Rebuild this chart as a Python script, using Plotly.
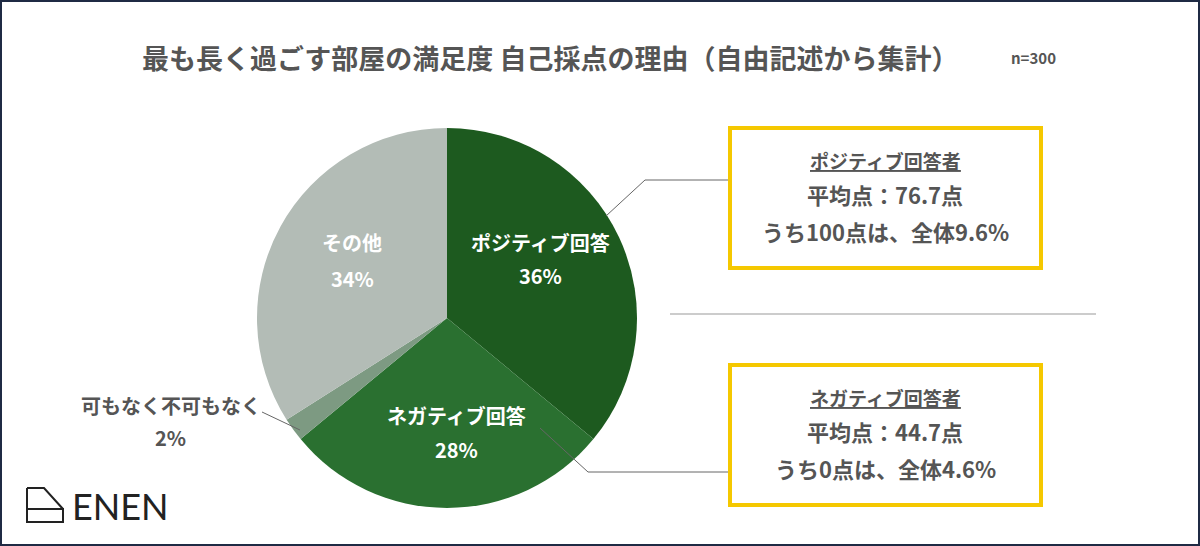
import plotly.graph_objects as go

labels = ["ポジティブ回答", "ネガティブ回答", "可もなく不可もなく", "その他"]
values = [36, 28, 2, 34]
colors = ["#1d5a1f", "#2a7030", "#7d9a82", "#b3bcb6"]

title = "最も長く過ごす部屋の満足度 自己採点の理由（自由記述から集計）"
n_label = "n=300"
pos_box = ["ポジティブ回答者", "平均点：76.7点", "うち100点は、全体9.6%"]
neg_box = ["ネガティブ回答者", "平均点：44.7点", "うち0点は、全体4.6%"]

W, H = 1200, 546
FONT = "Noto Sans CJK JP"


def px(x):
    return x / W


def py(y):
    return 1 - y / H


fig = go.Figure(go.Pie(
    labels=labels, values=values, sort=False, direction="clockwise", rotation=0,
    marker=dict(colors=colors, line=dict(color="white", width=0)),
    textinfo="none", hoverinfo="label+percent", showlegend=False,
    domain=dict(x=[px(257), px(637)], y=[py(508), py(128)]),
))

ann = []
def text(x, y, s, size=16, color="#555", bold=True):
    if bold:
        s = "<b>" + s + "</b>"
    ann.append(dict(x=px(x), y=py(y), xref="paper", yref="paper", text=s, showarrow=False,
                    xanchor="center", yanchor="middle",
                    font=dict(family=FONT, size=size, color=color)))

text(550, 58, title, 27)
text(1033, 58, n_label, 15)
text(540, 243, labels[0], 20, "white")
text(540, 275, f"{values[0]}%", 20, "white")
text(456, 415, labels[1], 20, "white")
text(456, 449, f"{values[1]}%", 20, "white")
text(352, 243, labels[3], 20, "white")
text(352, 278, f"{values[3]}%", 20, "white")
text(171, 405, labels[2], 20)
text(171, 437, f"{values[2]}%", 20)

for y0, lines in [(128, pos_box), (365, neg_box)]:
    text(885, y0 + 32, "<u>" + lines[0] + "</u>", 19)
    text(885, y0 + 66, lines[1], 22)
    text(885, y0 + 103, lines[2], 22)

ann.append(dict(x=px(70), y=py(506), xref="paper", yref="paper", text="ENEN", showarrow=False,
                xanchor="left", yanchor="middle",
                font=dict(family="Lato", size=36, color="#222")))

shapes = []
def line_path(pts, color="#666", width=1):
    d = "M " + " L ".join(f"{px(x)},{py(y)}" for x, y in pts)
    shapes.append(dict(type="path", path=d, xref="paper", yref="paper",
                       line=dict(color=color, width=width)))

line_path([(606, 216), (645, 180), (730, 180)])
line_path([(540, 428), (588, 472), (730, 472)])
line_path([(300, 430), (262, 412)])
line_path([(670, 314), (1096, 314)], "#999")

for y0 in (128, 365):
    shapes.append(dict(type="rect", xref="paper", yref="paper", x0=px(730), x1=px(1041),
                       y0=py(y0 + 140), y1=py(y0), line=dict(color="#f5c800", width=4)))

# logo icon
line_path([(27, 488), (27, 522), (63, 522), (63, 509), (27, 509)], "#222", 2)
line_path([(27, 488), (44, 488), (63, 509)], "#222", 2)

# outer border
shapes.append(dict(type="rect", xref="paper", yref="paper", x0=0, x1=1, y0=0, y1=1,
                   line=dict(color="#1f2a44", width=4)))

fig.update_layout(width=W, height=H, margin=dict(l=0, r=0, t=0, b=0),
                  paper_bgcolor="white", plot_bgcolor="white",
                  annotations=ann, shapes=shapes)
fig.write_html("out.html", config={"displayModeBar": False},
               post_script="document.body.style.margin='0';document.body.style.overflow='hidden';")
